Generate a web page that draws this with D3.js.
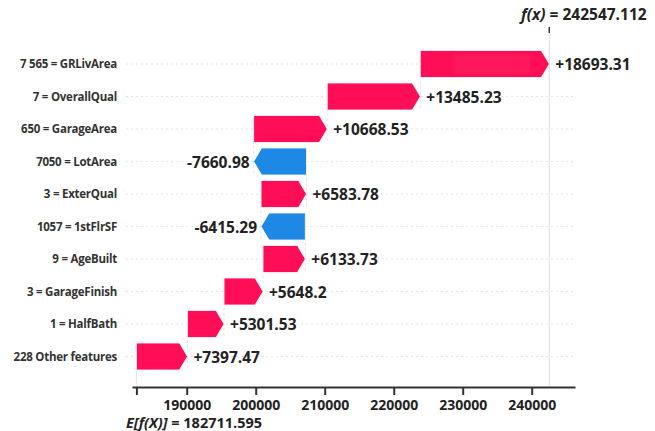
<!DOCTYPE html>
<html><head><meta charset="utf-8">
<script src="https://cdn.jsdelivr.net/npm/d3@7"></script>
<style>
html,body{margin:0;padding:0;background:#fff;}
svg{display:block;font-family:"Open Sans",sans-serif;}
</style></head>
<body><svg id="c" width="655" height="431"></svg>
<script>
const features = ["7 565 = GRLivArea","7 = OverallQual","650 = GarageArea","7050 = LotArea","3 = ExterQual","1057 = 1stFlrSF","9 = AgeBuilt","3 = GarageFinish","1 = HalfBath","228 Other features"];
const shapValues = [18693.31,13485.23,10668.53,-7660.98,6583.78,-6415.29,6133.73,5648.2,5301.53,7397.47];
const baseValue = 182711.595;
const fxValue = 242547.112;
const tickValues = [190000,200000,210000,220000,230000,240000];

const svg = d3.select("#c");
const RED = "#ff0d57", BLUE = "#1e88e5";

const n = features.length;
const starts = new Array(n), ends = new Array(n);
let acc = baseValue;
for (let i = n-1; i >= 0; i--) { starts[i] = acc; acc += shapValues[i]; ends[i] = acc; }

const x = d3.scaleLinear().domain([182072, 246275]).range([132, 575]);
const y = d3.scalePoint().domain(features).range([64, 356.5]);
const barH = 27, head = 8;
const axisY = 387;

// dotted horizontal guides
svg.append("g").selectAll("line").data(features).join("line")
  .attr("x1", 126).attr("x2", 575)
  .attr("y1", d => y(d)).attr("y2", d => y(d))
  .attr("stroke", "#dcdcdc").attr("stroke-width", 0.8).attr("stroke-dasharray", "2,3");

// vertical connectors
const conn = svg.append("g").attr("stroke", "#e0e0e0").attr("stroke-width", 0.8).attr("stroke-dasharray", "3,2");
for (let i = 0; i < n-1; i++) {
  conn.append("line").attr("x1", x(starts[i])).attr("x2", x(starts[i]))
    .attr("y1", y(features[i]) - barH/2).attr("y2", y(features[i+1]) + barH/2);
}
svg.append("line").attr("x1", x(baseValue)).attr("x2", x(baseValue))
  .attr("y1", y(features[n-1]) + barH/2).attr("y2", axisY).attr("stroke", "#e0e0e0").attr("stroke-width", 0.8);
svg.append("line").attr("x1", x(fxValue)).attr("x2", x(fxValue))
  .attr("y1", 33).attr("y2", axisY).attr("stroke", "#e4e4e4").attr("stroke-width", 1.2);

// bars
function arrowPath(i) {
  const s = x(starts[i]), e = x(ends[i]), cy = y(features[i]);
  const t = cy - barH/2, b = cy + barH/2;
  const dir = e >= s ? 1 : -1;
  const h = Math.min(head, Math.abs(e - s));
  const hb = e - dir*h;
  return `M${s},${t}L${hb},${t}L${e},${cy}L${hb},${b}L${s},${b}Z`;
}
svg.append("g").selectAll("path").data(d3.range(n)).join("path")
  .attr("d", arrowPath)
  .attr("fill", i => shapValues[i] >= 0 ? RED : BLUE)
  .attr("stroke", "#fff").attr("stroke-width", 0.8);

// subtle lighter inset on the top bar
svg.append("rect").attr("x", 453).attr("y", 54).attr("width", 77).attr("height", 20)
  .attr("fill", "#ff2367").attr("opacity", 0.45);

// value labels
svg.append("g").selectAll("text").data(d3.range(n)).join("text")
  .attr("x", i => shapValues[i] >= 0 ? x(ends[i]) + 6 : x(ends[i]) - 4)
  .attr("y", i => y(features[i]) + 1)
  .attr("dy", "0.35em")
  .attr("text-anchor", i => shapValues[i] >= 0 ? "start" : "end")
  .attr("font-size", 15.5).attr("font-weight", 700).attr("fill", "#222")
  .text(i => (shapValues[i] >= 0 ? "+" : "") + shapValues[i]);

// feature labels
svg.append("g").selectAll("text").data(features).join("text")
  .attr("x", 117).attr("y", d => y(d)).attr("dy", "0.35em")
  .attr("text-anchor", "end").attr("font-size", 11.5).attr("font-weight", 700).attr("fill", "#333")
  .attr("letter-spacing", -0.25)
  .text(d => d);

// bottom axis
const axis = d3.axisBottom(x).tickValues([baseValue].concat(tickValues)).tickSize(8).tickSizeOuter(0).tickPadding(5)
  .tickFormat(d => d === baseValue ? "" : d3.format("d")(d));
const ag = svg.append("g").attr("transform", `translate(0,${axisY})`).call(axis);
ag.select(".domain").attr("stroke", "#333").attr("stroke-width", 2);
ag.selectAll(".tick line").attr("stroke", "#333").attr("stroke-width", 2);
ag.selectAll(".tick text").attr("font-family", "Open Sans").attr("font-size", 14).attr("font-weight", 700).attr("fill", "#222");

// E[f(X)] label
const et = svg.append("text").attr("x", 126).attr("y", 428).attr("font-size", 14.5).attr("font-weight", 700).attr("fill", "#222");
et.append("tspan").attr("font-style", "italic").text("E[f(X)]");
et.append("tspan").text(" = " + baseValue);

// top f(x) tick and label
svg.append("line").attr("x1", x(fxValue)).attr("x2", x(fxValue)).attr("y1", 27).attr("y2", 33)
  .attr("stroke", "#333").attr("stroke-width", 1.5);
const ft = svg.append("text").attr("x", 521).attr("y", 20)
  .attr("font-size", 15.5).attr("font-weight", 700).attr("fill", "#222");
ft.append("tspan").attr("font-style", "italic").text("f(x)");
ft.append("tspan").text(" = " + fxValue);
</script></body></html>
